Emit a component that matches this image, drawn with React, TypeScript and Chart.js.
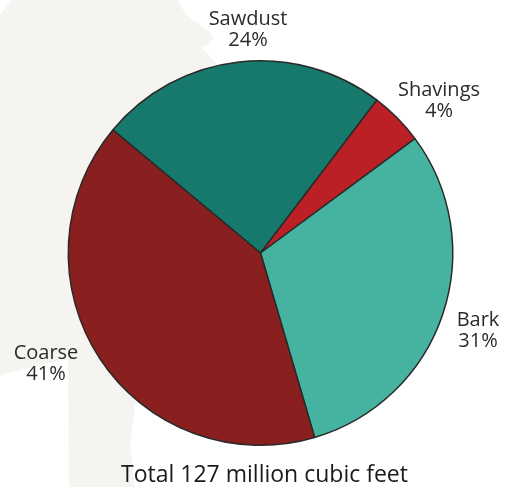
import React, { useEffect, useRef } from "react";
import { Chart, registerables } from "chart.js";

Chart.register(...registerables);

const categories = ["Sawdust", "Shavings", "Bark", "Coarse"];
const shares = [24.3, 4.5, 30.6, 40.6];
const percentLabels = ["24%", "4%", "31%", "41%"];
const sliceColors = ["#17796b", "#bb2026", "#45b39f", "#891f1f"];
const labelAnchors = [
  [248, 19],
  [439, 90],
  [478, 320],
  [46, 353],
];
const footerText = "Total 127 million cubic feet";
const FONT = '"Open Sans", sans-serif';

const backdrop = {
  id: "backdrop",
  beforeDraw(chart: any) {
    const c = chart.ctx;
    c.save();
    c.fillStyle = "#fff";
    c.fillRect(0, 0, chart.width, chart.height);
    c.fillStyle = "#f5f4f0";
    c.beginPath();
    c.moveTo(12, 0);
    c.lineTo(178, 0);
    c.bezierCurveTo(181, 10, 190, 18, 198, 24);
    c.bezierCurveTo(206, 29, 212, 33, 213, 37);
    c.quadraticCurveTo(212, 42, 202, 48);
    c.lineTo(217, 64);
    c.lineTo(113, 200);
    c.lineTo(136, 398);
    c.lineTo(130, 445);
    c.lineTo(135, 487);
    c.lineTo(69, 487);
    c.lineTo(68, 358);
    c.lineTo(0, 375);
    c.lineTo(0, 15);
    c.closePath();
    c.fill();
    c.restore();
  },
};

const captions = {
  id: "captions",
  afterDraw(chart: any) {
    const c = chart.ctx;
    c.save();
    c.fillStyle = "#2b2b2b";
    c.textAlign = "center";
    c.textBaseline = "middle";
    c.font = `20px ${FONT}`;
    categories.forEach((name, i) => {
      const [x, y] = labelAnchors[i];
      c.fillText(name, x, y);
      c.fillText(percentLabels[i], x, y + 21);
    });
    c.fillStyle = "#1a1a1a";
    c.font = `23px ${FONT}`;
    c.fillText(footerText, 264.5, 475);
    c.restore();
  },
};

export default function App() {
  const ref = useRef<HTMLCanvasElement>(null);
  useEffect(() => {
    document.body.style.margin = "0";
    const chart = new Chart(ref.current!, {
      type: "pie",
      data: {
        labels: categories,
        datasets: [
          {
            data: shares,
            backgroundColor: sliceColors,
            borderColor: "#2a2a2a",
            borderWidth: 1.5,
            borderAlign: "center",
          },
        ],
      },
      options: {
        responsive: false,
        animation: false,
        rotation: -50.2,
        layout: { padding: { left: 67, right: 57, top: 60, bottom: 41 } },
        plugins: { legend: { display: false }, tooltip: { enabled: false } },
      },
      plugins: [backdrop, captions],
    });
    return () => chart.destroy();
  }, []);
  return <canvas ref={ref} width={511} height={487} style={{ display: "block" }} />;
}
